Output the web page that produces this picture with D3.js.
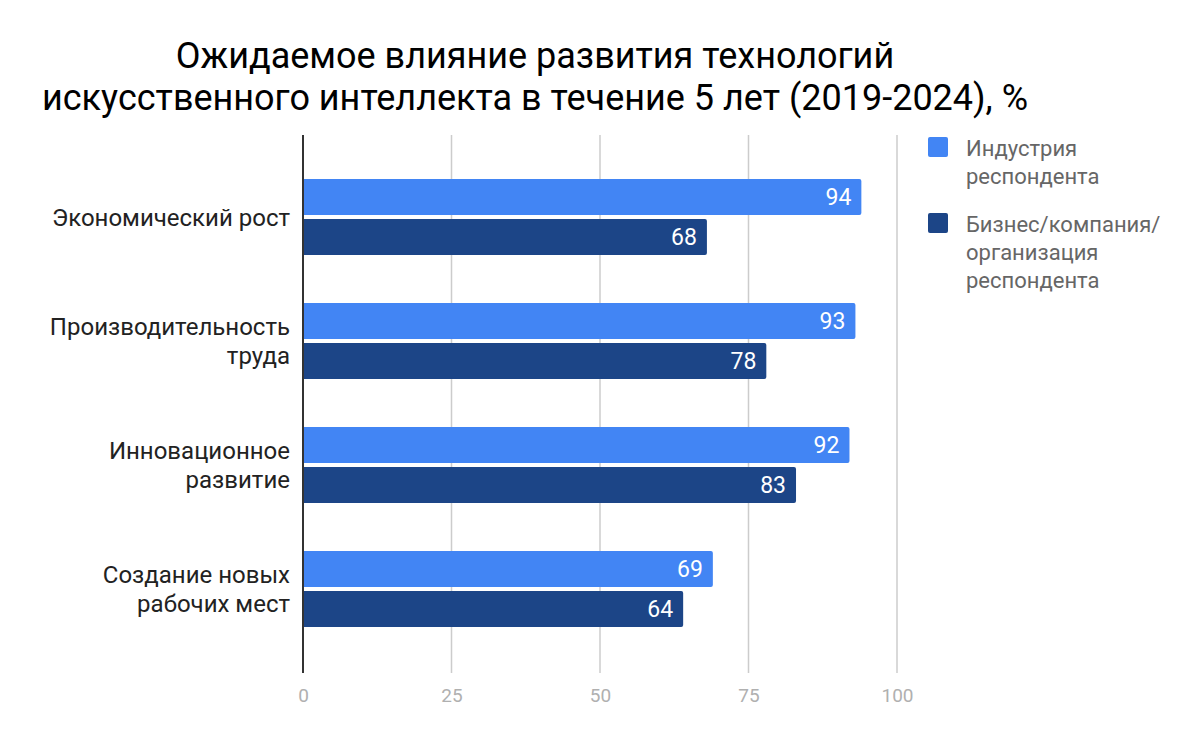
<!DOCTYPE html>
<html>
<head>
<meta charset="utf-8">
<script src="https://cdn.jsdelivr.net/npm/d3@7"></script>
<style>
  body { margin: 0; background: #fff; }
  text { font-family: Roboto, "Noto Sans", sans-serif; }
</style>
</head>
<body>
<div id="my_dataviz"></div>
<script>
// data
var categories = [
  ["Экономический рост"],
  ["Производительность", "труда"],
  ["Инновационное", "развитие"],
  ["Создание новых", "рабочих мест"]
];
var seriesNames = ["Индустрия респондента", "Бизнес/компания/организация респондента"];
var legendLines = [["Индустрия", "респондента"], ["Бизнес/компания/", "организация", "респондента"]];
var industry = [94, 93, 92, 69];
var business = [68, 78, 83, 64];
var ticks = [0, 25, 50, 75, 100];
var titleLines = ["Ожидаемое влияние развития технологий",
                  "искусственного интеллекта в течение 5 лет (2019-2024), %"];

var colors = ["#4285f4", "#1c4587"];

var W = 1200, H = 742;
var plotLeft = 303, plotRight = 897, plotTop = 135, plotBottom = 673;

var svg = d3.select("#my_dataviz")
  .append("svg")
    .attr("width", W)
    .attr("height", H);

// title
svg.append("g").selectAll("text")
  .data(titleLines)
  .enter().append("text")
    .attr("x", 535)
    .attr("y", function(d, i) { return 68 + i * 42; })
    .attr("text-anchor", "middle")
    .style("font-size", "36px")
    .attr("fill", "#000")
    .text(function(d) { return d; });

var x = d3.scaleLinear()
  .domain([0, 100])
  .range([plotLeft, plotRight]);

var y0 = d3.scaleBand()
  .domain(d3.range(categories.length))
  .range([155, 651]);

var y1 = d3.scaleBand()
  .domain([0, 1])
  .range([24, 100])
  .paddingInner(0.1);

// gridlines
svg.append("g").selectAll("line")
  .data(ticks.slice(1))
  .enter().append("line")
    .attr("x1", function(d) { return x(d); })
    .attr("x2", function(d) { return x(d); })
    .attr("y1", plotTop)
    .attr("y2", plotBottom)
    .attr("stroke", "#cccccc")
    .attr("stroke-width", 1.5);

// x axis tick labels
var xAxis = svg.append("g")
  .attr("transform", "translate(0," + plotBottom + ")")
  .call(d3.axisBottom(x).tickValues(ticks).tickSize(0).tickPadding(16));
xAxis.select(".domain").remove();
xAxis.selectAll("text")
  .style("font-size", "19px")
  .style("font-family", "Roboto, sans-serif")
  .attr("fill", "#b0b0b0");

// bars
var rows = [];
categories.forEach(function(c, i) {
  rows.push({cat: i, s: 0, v: industry[i]});
  rows.push({cat: i, s: 1, v: business[i]});
});

var bars = svg.append("g");
bars.selectAll("path")
  .data(rows)
  .enter().append("path")
    .attr("d", function(d) {
      var x0 = x(0), x1 = x(d.v), yt = y0(d.cat) + y1(d.s), h = y1.bandwidth(), r = 2;
      return "M" + x0 + "," + yt + "H" + (x1 - r) + "Q" + x1 + "," + yt + " " + x1 + "," + (yt + r) +
        "V" + (yt + h - r) + "Q" + x1 + "," + (yt + h) + " " + (x1 - r) + "," + (yt + h) + "H" + x0 + "Z";
    })
    .attr("fill", function(d) { return colors[d.s]; });

bars.selectAll("text")
  .data(rows)
  .enter().append("text")
    .attr("x", function(d) { return x(d.v) - 10; })
    .attr("y", function(d) { return y0(d.cat) + y1(d.s) + y1.bandwidth() / 2; })
    .attr("dy", "0.36em")
    .attr("text-anchor", "end")
    .style("font-size", "23px")
    .attr("fill", "#fff")
    .text(function(d) { return d.v; });

// left axis line
svg.append("line")
  .attr("x1", plotLeft).attr("x2", plotLeft)
  .attr("y1", plotTop).attr("y2", plotBottom)
  .attr("stroke", "#333")
  .attr("stroke-width", 2);

// category labels
var cat = svg.append("g").selectAll("text")
  .data(categories)
  .enter().append("text")
    .attr("text-anchor", "end")
    .style("font-size", "24px")
    .attr("fill", "#222");
cat.each(function(lines, i) {
  var cy = y0(i) + y0.bandwidth() / 2;
  var n = lines.length;
  d3.select(this).selectAll("tspan")
    .data(lines)
    .enter().append("tspan")
      .attr("x", 290)
      .attr("y", function(d, j) { return cy + (j - (n - 1) / 2) * 29; })
      .attr("dy", "0.36em")
      .text(function(d) { return d; });
});

// legend
var legend = svg.append("g");
var legendY = [137, 213];
legendLines.forEach(function(lines, i) {
  legend.append("rect")
    .attr("x", 928).attr("y", legendY[i])
    .attr("width", 20).attr("height", 20)
    .attr("rx", 2)
    .attr("fill", colors[i]);
  legend.append("text")
    .style("font-size", "22px")
    .attr("fill", "#666")
    .selectAll("tspan")
    .data(lines)
    .enter().append("tspan")
      .attr("x", 966)
      .attr("y", function(d, j) { return legendY[i] + 11 + j * 28; })
      .attr("dy", "0.36em")
      .text(function(d) { return d; });
});
</script>
</body>
</html>
